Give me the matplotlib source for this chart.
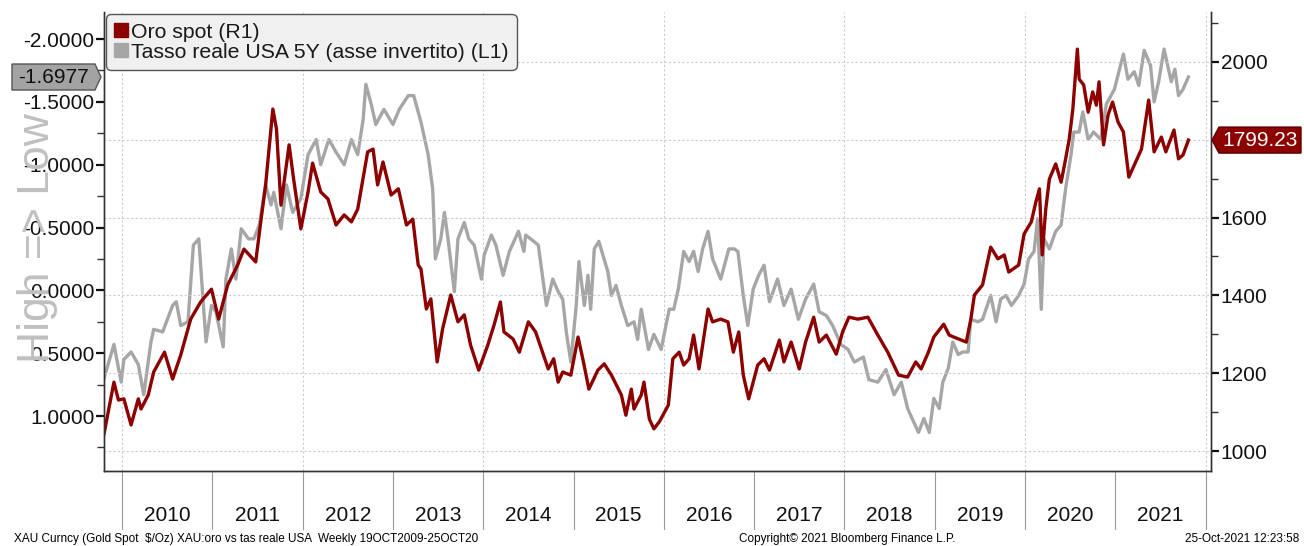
"""Oro spot vs tasso reale USA 5Y (asse invertito), Bloomberg style."""

import matplotlib

matplotlib.use("Agg")
import matplotlib.pyplot as plt
from matplotlib.lines import Line2D
from matplotlib.patches import Polygon
from matplotlib.ticker import FixedLocator, FuncFormatter, MultipleLocator

plt.rcParams["font.family"] = ["Liberation Sans", "DejaVu Sans"]

# --- data (decimal years) ---
gold_t = [
    2009.80, 2009.91, 2009.96, 2010.02, 2010.10, 2010.18, 2010.21, 2010.29, 2010.35, 2010.47,
    2010.56, 2010.65, 2010.76, 2010.87, 2010.99, 2011.07, 2011.17, 2011.28, 2011.35, 2011.48,
    2011.54, 2011.59, 2011.67, 2011.71, 2011.76, 2011.85, 2011.90, 2011.98, 2012.06, 2012.11,
    2012.20, 2012.28, 2012.37, 2012.46, 2012.54, 2012.61, 2012.72, 2012.78, 2012.83, 2012.89,
    2012.98, 2013.06, 2013.15, 2013.22, 2013.28, 2013.31, 2013.37, 2013.42, 2013.49, 2013.55,
    2013.64, 2013.72, 2013.79, 2013.86, 2013.95, 2014.05, 2014.12, 2014.19, 2014.23, 2014.33,
    2014.40, 2014.50, 2014.58, 2014.72, 2014.78, 2014.83, 2014.88, 2014.97, 2015.05, 2015.11,
    2015.17, 2015.27, 2015.34, 2015.42, 2015.53, 2015.58, 2015.64, 2015.67, 2015.75, 2015.78,
    2015.84, 2015.89, 2015.95, 2016.05, 2016.10, 2016.17, 2016.22, 2016.28, 2016.33, 2016.39,
    2016.49, 2016.54, 2016.63, 2016.71, 2016.77, 2016.83, 2016.88, 2016.94, 2017.04, 2017.11,
    2017.17, 2017.28, 2017.33, 2017.41, 2017.50, 2017.57, 2017.66, 2017.72, 2017.80, 2017.91,
    2017.98, 2018.05, 2018.15, 2018.26, 2018.37, 2018.48, 2018.60, 2018.70, 2018.79, 2018.85,
    2018.93, 2018.99, 2019.10, 2019.16, 2019.21, 2019.35, 2019.40, 2019.44, 2019.53, 2019.62,
    2019.70, 2019.77, 2019.82, 2019.93, 2019.99, 2020.07, 2020.12, 2020.16, 2020.19, 2020.23,
    2020.27, 2020.34, 2020.40, 2020.45, 2020.49, 2020.53, 2020.58, 2020.60, 2020.65, 2020.70,
    2020.75, 2020.79, 2020.82, 2020.87, 2020.92, 2020.97, 2021.03, 2021.09, 2021.15, 2021.21,
    2021.29, 2021.37, 2021.43, 2021.51, 2021.56, 2021.65, 2021.70, 2021.75, 2021.81,
]
gold = [
    1044, 1177, 1131, 1134, 1067, 1134, 1108, 1144, 1203, 1254,
    1185, 1247, 1339, 1383, 1416, 1339, 1427, 1478, 1519, 1486,
    1596, 1684, 1879, 1828, 1632, 1787, 1699, 1571, 1666, 1740,
    1666, 1648, 1581, 1607, 1589, 1622, 1769, 1776, 1684, 1743,
    1658, 1674, 1581, 1596, 1478, 1468, 1365, 1391, 1229, 1314,
    1401, 1332, 1350, 1272, 1208, 1272, 1324, 1383, 1306, 1288,
    1254, 1332, 1306, 1211, 1237, 1177, 1203, 1195, 1293, 1229,
    1159, 1208, 1224, 1195, 1144, 1092, 1159, 1108, 1144, 1177,
    1082, 1057, 1075, 1118, 1237, 1254, 1221, 1237, 1298, 1211,
    1365, 1332, 1339, 1332, 1254, 1306, 1195, 1134, 1221, 1237,
    1208, 1285, 1229, 1280, 1211, 1280, 1344, 1280, 1298, 1249,
    1306, 1344, 1339, 1344, 1298, 1254, 1195, 1190, 1229, 1211,
    1254, 1293, 1326, 1298, 1293, 1280, 1339, 1401, 1427, 1524,
    1494, 1504, 1460, 1478, 1558, 1589, 1640, 1674, 1504, 1622,
    1699, 1738, 1691, 1751, 1802, 1879, 2033, 1956, 1941, 1871,
    1923, 1889, 1949, 1787, 1864, 1897, 1846, 1820, 1704, 1735,
    1776, 1902, 1769, 1807, 1769, 1825, 1751, 1761, 1799.23,
]

rate_t = [
    2009.80, 2009.91, 2009.99, 2010.02, 2010.10, 2010.18, 2010.24, 2010.32, 2010.35, 2010.45,
    2010.56, 2010.60, 2010.65, 2010.73, 2010.79, 2010.85, 2010.87, 2010.93, 2010.99, 2011.04,
    2011.12, 2011.15, 2011.21, 2011.26, 2011.32, 2011.40, 2011.46, 2011.52, 2011.56, 2011.59,
    2011.65, 2011.68, 2011.76, 2011.82, 2011.89, 2011.98, 2012.06, 2012.15, 2012.20, 2012.29,
    2012.37, 2012.46, 2012.54, 2012.61, 2012.67, 2012.70, 2012.76, 2012.81, 2012.90, 2013.00,
    2013.07, 2013.17, 2013.23, 2013.31, 2013.39, 2013.44, 2013.47, 2013.53, 2013.57, 2013.61,
    2013.68, 2013.72, 2013.79, 2013.84, 2013.90, 2013.98, 2014.01, 2014.09, 2014.14, 2014.22,
    2014.29, 2014.39, 2014.45, 2014.47, 2014.56, 2014.61, 2014.70, 2014.77, 2014.83, 2014.88,
    2014.92, 2014.97, 2015.03, 2015.06, 2015.12, 2015.16, 2015.19, 2015.23, 2015.28, 2015.38,
    2015.42, 2015.47, 2015.53, 2015.60, 2015.67, 2015.71, 2015.75, 2015.83, 2015.89, 2015.97,
    2016.06, 2016.11, 2016.16, 2016.22, 2016.28, 2016.33, 2016.38, 2016.43, 2016.49, 2016.54,
    2016.63, 2016.72, 2016.78, 2016.82, 2016.88, 2016.93, 2016.99, 2017.05, 2017.11, 2017.17,
    2017.26, 2017.33, 2017.41, 2017.49, 2017.57, 2017.66, 2017.72, 2017.80, 2017.87, 2017.96,
    2018.04, 2018.11, 2018.21, 2018.27, 2018.37, 2018.46, 2018.55, 2018.63, 2018.70, 2018.82,
    2018.88, 2018.94, 2018.99, 2019.05, 2019.09, 2019.15, 2019.20, 2019.26, 2019.31, 2019.37,
    2019.40, 2019.48, 2019.53, 2019.62, 2019.68, 2019.73, 2019.79, 2019.85, 2019.93, 2019.99,
    2020.04, 2020.10, 2020.14, 2020.18, 2020.21, 2020.27, 2020.34, 2020.40, 2020.45, 2020.51,
    2020.54, 2020.60, 2020.64, 2020.70, 2020.76, 2020.84, 2020.90, 2020.99, 2021.09, 2021.14,
    2021.21, 2021.26, 2021.32, 2021.39, 2021.43, 2021.48, 2021.54, 2021.62, 2021.66, 2021.70,
    2021.75, 2021.81,
]
rate = [
    0.70, 0.43, 0.73, 0.55, 0.49, 0.59, 0.83, 0.41, 0.31, 0.33,
    0.12, 0.09, 0.28, 0.25, -0.36, -0.41, -0.20, 0.41, 0.12, 0.17,
    0.45, -0.09, -0.33, -0.09, -0.49, -0.41, -0.41, -0.52, -0.70, -0.84,
    -0.68, -0.78, -0.49, -0.84, -0.62, -0.73, -1.08, -1.20, -1.00, -1.20,
    -1.10, -1.00, -1.20, -1.08, -1.36, -1.64, -1.48, -1.32, -1.44, -1.32,
    -1.44, -1.55, -1.55, -1.34, -1.08, -0.81, -0.25, -0.41, -0.62, -0.41,
    0.01, -0.41, -0.54, -0.41, -0.36, -0.09, -0.28, -0.44, -0.36, -0.12,
    -0.31, -0.47, -0.31, -0.44, -0.39, -0.36, 0.12, -0.09, 0.01, 0.07,
    0.33, 0.57, 0.12, -0.23, 0.12, -0.12, 0.15, -0.33, -0.39, -0.15,
    0.04, -0.04, 0.12, 0.28, 0.25, 0.39, 0.15, 0.47, 0.35, 0.47,
    0.15, 0.15, -0.01, -0.31, -0.23, -0.31, -0.15, -0.33, -0.47, -0.25,
    -0.09, -0.33, -0.33, -0.31, 0.04, 0.28, -0.01, -0.12, -0.20, 0.09,
    -0.09, 0.12, -0.01, 0.23, 0.07, -0.05, 0.17, 0.20, 0.28, 0.43,
    0.47, 0.57, 0.53, 0.71, 0.73, 0.63, 0.83, 0.73, 0.94, 1.13,
    1.02, 1.13, 0.86, 0.94, 0.73, 0.62, 0.41, 0.51, 0.49, 0.49,
    0.23, 0.25, 0.23, 0.04, 0.25, 0.07, 0.04, 0.12, 0.04, -0.05,
    -0.25, -0.31, -0.57, 0.15, -0.41, -0.33, -0.47, -0.52, -0.81, -1.08,
    -1.26, -1.26, -1.42, -1.20, -1.26, -1.20, -1.48, -1.60, -1.88, -1.68,
    -1.74, -1.63, -1.91, -1.79, -1.50, -1.66, -1.92, -1.66, -1.76, -1.55,
    -1.60, -1.6977,
]

years = list(range(2010, 2022))
gold_label = "Oro spot (R1)"
rate_label = "Tasso reale USA 5Y (asse invertito) (L1)"

RED = "#8c0000"
GREY = "#a6a6a6"
GRID = "#c5ccd8"

W, H, DPI = 1304, 546, 100
fig = plt.figure(figsize=(W / DPI, H / DPI), dpi=DPI)

# main axes, placed in pixels
x0, x1, ytop, ybot = 104, 1211, 12, 471
ax = fig.add_axes([x0 / W, 1 - ybot / H, (x1 - x0) / W, (ybot - ytop) / H])
ax2 = ax.twinx()

ax.plot(rate_t, rate, color=GREY, lw=2.4, solid_joinstyle="round")
ax2.plot(gold_t, gold, color=RED, lw=2.4, solid_joinstyle="round")

ax.set_xlim(2009.80, 2022.06)
ax.set_ylim(1.437, -2.215)
ax2.set_ylim(948.6, 2128.5)

# grid: horizontal from the right axis, vertical every two years
ax2.yaxis.set_major_locator(FixedLocator([1000, 1200, 1400, 1600, 1800, 2000]))
ax2.yaxis.set_minor_locator(MultipleLocator(100))
ax2.grid(axis="y", color=GRID, ls=(0, (2, 2)), lw=0.8)
for yr in range(2010, 2023, 2):
    ax.axvline(yr, color=GRID, ls=(0, (2, 2)), lw=0.8, zorder=0)
ax.set_xticks([])

ax.yaxis.set_major_locator(MultipleLocator(0.5))
ax.yaxis.set_minor_locator(MultipleLocator(0.25))
ax.yaxis.set_major_formatter(FuncFormatter(lambda v, _: f"{v:.4f}".replace("-0.0000", "0.0000")))
ax2.yaxis.set_major_formatter(FuncFormatter(lambda v, _: "" if round(v) == 1800 else f"{v:.0f}"))

for a in (ax, ax2):
    a.tick_params(axis="y", which="major", length=6, width=1.6, labelsize=15, pad=1, colors="#111111")
    a.tick_params(axis="y", which="minor", length=5, width=1.0, colors="#333333")
    for s in a.spines.values():
        s.set_color("#333333")
        s.set_linewidth(1.0)
    a.spines["top"].set_visible(False)

ax2.set_zorder(ax.get_zorder() + 1)
ax2.patch.set_visible(False)

# legend
handles = [
    Line2D([], [], marker="s", ls="none", color=RED, markersize=10),
    Line2D([], [], marker="s", ls="none", color=GREY, markersize=10),
]
leg = ax2.legend(
    handles, [gold_label, rate_label], loc="upper left", bbox_to_anchor=(0.0, 1.0),
    borderaxespad=0.1, fontsize=15.3, handlelength=0.6, handletextpad=0.15,
    labelspacing=0.05, borderpad=0.4, frameon=True, fancybox=True,
    facecolor="#f0f0f0", edgecolor="#555555", framealpha=1.0,
)
leg.get_frame().set_boxstyle("round,pad=0.0,rounding_size=0.25")
for t in leg.get_texts():
    t.set_color("#1a1a1a")

# vertical hint on the left, behind the tick labels as in the original
fig.text(38 / W, 1 - 238 / H, "High => Low", rotation=90, fontsize=32,
         color="#c0c0c0", ha="center", va="center", zorder=0)

# last-value tags
fig.canvas.draw()
ly = ax.transData.transform((2010, rate[-1]))[1]
ry = ax2.transData.transform((2010, gold[-1]))[1]
lx = ax.transAxes.transform((0, 0))[0]
rx = ax.transAxes.transform((1, 0))[0]
hh = 13
ltag = Polygon([(lx - 92, ly - hh), (lx - 9, ly - hh), (lx - 3, ly), (lx - 9, ly + hh), (lx - 92, ly + hh)],
               closed=True, transform=None, facecolor="#a3a3a3", edgecolor="#555555", lw=1.0, zorder=10)
rtag = Polygon([(rx + 1, ry), (rx + 8, ry - hh), (rx + 90, ry - hh), (rx + 90, ry + hh), (rx + 8, ry + hh)],
               closed=True, transform=None, facecolor=RED, edgecolor="#5a0000", lw=1.0, zorder=10)
fig.patches.extend([ltag, rtag])
fig.text((lx - 50) / W, ly / H, f"{rate[-1]:.4f}", fontsize=15, color="#111111",
         ha="center", va="center", zorder=11)
fig.text((rx + 49) / W, ry / H, f"{gold[-1]:.2f}", fontsize=15, color="white",
         ha="center", va="center", zorder=11)

# year band under the plot
band = fig.add_axes([x0 / W, 1 - 530 / H, (x1 - x0) / W, (530 - ybot) / H])
band.set_xlim(ax.get_xlim())
band.set_ylim(0, 1)
band.axis("off")
for yr in years + [years[-1] + 1]:
    band.axvline(yr, color="#9a9a9a", lw=0.8)
for yr in years:
    band.text(yr + 0.5, 0.25, str(yr), ha="center", va="center", fontsize=15, color="#111111")

# footer
fig.text(14 / W, 1 - 539 / H,
         "XAU Curncy (Gold Spot  $/Oz) XAU:oro vs tas reale USA  Weekly 19OCT2009-25OCT20",
         fontsize=8.5, ha="left", va="center")
fig.text(847 / W, 1 - 539 / H, "Copyright\u00a9 2021 Bloomberg Finance L.P.",
         fontsize=8.5, ha="center", va="center")
fig.text(1299 / W, 1 - 539 / H, "25-Oct-2021 12:23:58", fontsize=8.5, ha="right", va="center")

fig.savefig("out.png", dpi=DPI, facecolor="white")
